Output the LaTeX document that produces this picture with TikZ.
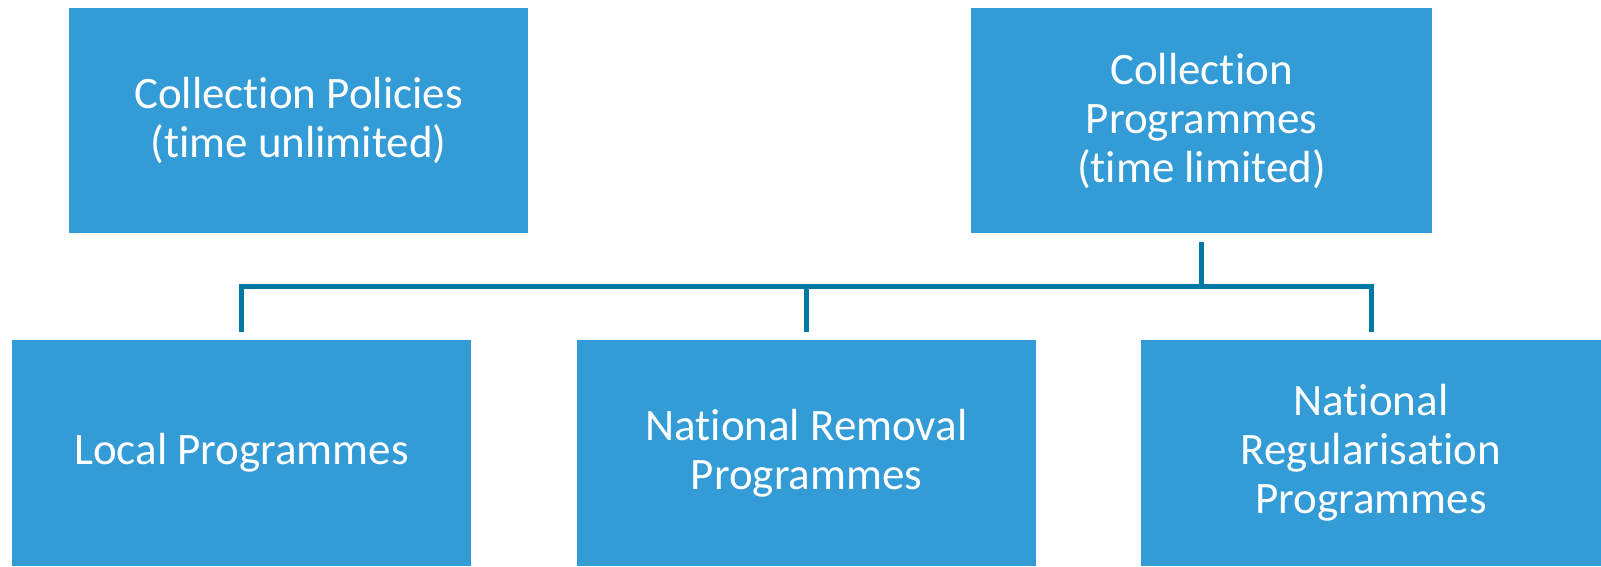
\documentclass[tikz,border=0pt]{standalone}
\usepackage{fontspec}
\setmainfont{Carlito}[Ligatures=NoCommon]
\usetikzlibrary{positioning}

\definecolor{boxblue}{RGB}{51,155,214}
\definecolor{linkteal}{RGB}{0,122,165}

\tikzset{
    progbox/.style={fill=boxblue,text=white,align=center,inner sep=0pt,
        font=\fontsize{45}{49}\selectfont},
    link/.style={draw=linkteal,line width=5pt,line join=miter}
}

\begin{document}
\begin{tikzpicture}[x=1pt,y=-1pt]
    \useasboundingbox (0,0) rectangle (1601,566);
    % top row
    \node[progbox,minimum width=459pt,minimum height=225pt] (policies) at (298.5,120.5)
        {Collection Policies\\(time unlimited)};
    \node[progbox,minimum width=461pt,minimum height=225pt] (collprog) at (1201.5,120.5)
        {Collection\\Programmes\\(time limited)};
    % bottom row
    \node[progbox,minimum width=459pt,minimum height=226pt] (local) at (241.5,453)
        {Local Programmes};
    \node[progbox,minimum width=459pt,minimum height=226pt] (removal) at (806.5,453)
        {National Removal\\Programmes};
    \node[progbox,minimum width=460pt,minimum height=226pt] (regular) at (1371,453)
        {National\\Regularisation\\Programmes};
    % connectors
    \foreach \n in {local,removal,regular}
        \draw[link,shorten <=9pt,shorten >=8pt] (collprog.south) -- ++(0,53) -| (\n.north);
\end{tikzpicture}
\end{document}
